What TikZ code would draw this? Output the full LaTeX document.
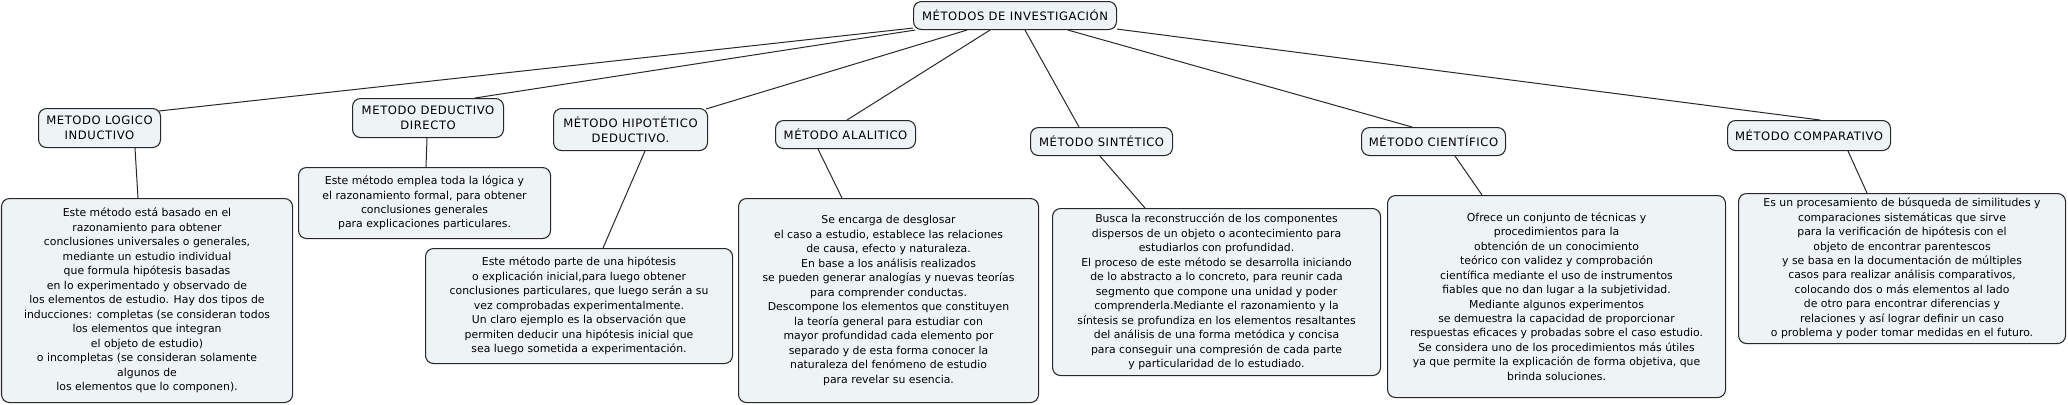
\documentclass[tikz,border=0pt]{standalone}
\usepackage{fontspec}
\setmainfont{DejaVu Sans}
\newfontfamily\capsfont[LetterSpace=5]{DejaVu Sans}
\usetikzlibrary{calc,backgrounds}
\definecolor{boxfill}{RGB}{238,244,246}
\definecolor{boxline}{RGB}{40,40,40}
\tikzset{
  cbox/.style={draw=boxline, fill=boxfill, line width=0.8pt, rounded corners=6pt,
    anchor=north west, inner sep=0pt, align=center,
    font=\fontsize{8.15}{10.85}\selectfont},
  capbox/.style={cbox, font=\capsfont\fontsize{8.7}{11.2}\selectfont},
  link/.style={draw=boxline, line width=0.75pt},
}
\newcommand{\bx}[7]{\node[cbox, #7, minimum width={#4*0.75pt}, minimum height={#5*0.75pt}] (#1) at (#2,#3) {#6};}
\begin{document}
\begin{tikzpicture}[x=0.75pt,y=-0.75pt]
\useasboundingbox (0,0) rectangle (2068,404);
% title
\bx{root}{913}{1}{203}{28}{MÉTODOS DE INVESTIGACIÓN}{capbox}
% methods
\bx{n1}{38}{108}{122}{39}{METODO LOGICO\\INDUCTIVO}{capbox}
\bx{n2}{352}{98}{151}{39}{METODO DEDUCTIVO\\DIRECTO}{capbox}
\bx{n3}{553}{108}{154}{42}{MÉTODO HIPOTÉTICO\\DEDUCTIVO.}{capbox}
\bx{n4}{775}{120}{140}{28}{MÉTODO ALALITICO}{capbox}
\bx{n5}{1030}{127}{142}{28}{MÉTODO SINTÉTICO}{capbox}
\bx{n6}{1361}{127}{144}{28}{MÉTODO CIENTÍFICO}{capbox}
\bx{n7}{1727}{120}{163}{30}{MÉTODO COMPARATIVO}{capbox}
% descriptions
\bx{d1}{1}{198}{291}{204}{Este método está basado en el\\razonamiento para obtener\\conclusiones universales o generales,\\mediante un estudio individual\\que formula hipótesis basadas\\en lo experimentado y observado de\\los elementos de estudio. Hay dos tipos de\\inducciones: completas (se consideran todos\\los elementos que integran\\el objeto de estudio)\\o incompletas (se consideran solamente\\algunos de\\los elementos que lo componen).}{}
\bx{d2}{298}{167}{252}{71}{Este método emplea toda la lógica y\\el razonamiento formal, para obtener\\conclusiones generales\\para explicaciones particulares.}{}
\bx{d3}{425}{248}{307}{115}{Este método parte de una hipótesis\\o explicación inicial,para luego obtener\\conclusiones particulares, que luego serán a su\\vez comprobadas experimentalmente.\\Un claro ejemplo es la observación que\\permiten deducir una hipótesis inicial que\\sea luego sometida a experimentación.}{}
\bx{d4}{738}{198}{300}{204}{Se encarga de desglosar\\el caso a estudio, establece las relaciones\\de causa, efecto y naturaleza.\\En base a los análisis realizados\\se pueden generar analogías y nuevas teorías\\para comprender conductas.\\Descompone los elementos que constituyen\\la teoría general para estudiar con\\mayor profundidad cada elemento por\\separado y de esta forma conocer la\\naturaleza del fenómeno de estudio\\para revelar su esencia.}{}
\bx{d5}{1052}{208}{328}{167}{Busca la reconstrucción de los componentes\\dispersos de un objeto o acontecimiento para\\estudiarlos con profundidad.\\El proceso de este método se desarrolla iniciando\\de lo abstracto a lo concreto, para reunir cada\\segmento que compone una unidad y poder\\comprenderla.Mediante el razonamiento y la\\síntesis se profundiza en los elementos resaltantes\\del análisis de una forma metódica y concisa\\para conseguir una compresión de cada parte\\y particularidad de lo estudiado.}{}
\bx{d6}{1387}{195}{338}{202}{Ofrece un conjunto de técnicas y\\procedimientos para la\\obtención de un conocimiento\\teórico con validez y comprobación\\científica mediante el uso de instrumentos\\fiables que no dan lugar a la subjetividad.\\Mediante algunos experimentos\\se demuestra la capacidad de proporcionar\\respuestas eficaces y probadas sobre el caso estudio.\\Se considera uno de los procedimientos más útiles\\ya que permite la explicación de forma objetiva, que\\brinda soluciones.}{}
\bx{d7}{1738}{193}{327}{150}{Es un procesamiento de búsqueda de similitudes y\\comparaciones sistemáticas que sirve\\para la verificación de hipótesis con el\\objeto de encontrar parentescos\\y se basa en la documentación de múltiples\\casos para realizar análisis comparativos,\\colocando dos o más elementos al lado\\de otro para encontrar diferencias y\\relaciones y así lograr definir un caso\\o problema y poder tomar medidas en el futuro.}{}
\begin{pgfonlayer}{background}
% title to methods
\draw[link] ($(root.south west)+(0,-2)$) -- ($(n1.north east)+(-2,3)$);
\draw[link] ($(root.south west)+(2,0)$) -- ($(n2.north west)+(123,0)$);
\draw[link] ($(root.south west)+(54,0)$) -- ($(n3.north east)+(-2,1)$);
\draw[link] ($(root.south west)+(77,0)$) -- ($(n4.north west)+(72,0)$);
\draw[link] ($(root.south west)+(112,0)$) -- ($(n5.north west)+(49,0)$);
\draw[link] ($(root.south west)+(155,0)$) -- ($(n6.north west)+(51,0)$);
\draw[link] ($(root.south east)+(0,-1)$) -- ($(n7.north west)+(93,0)$);
% methods to descriptions
\draw[link] ($(n1.south west)+(97,0)$) -- ($(d1.north west)+(137,0)$);
\draw[link] ($(n2.south west)+(75,0)$) -- ($(d2.north west)+(128,0)$);
\draw[link] ($(n3.south west)+(92,0)$) -- ($(d3.north west)+(178,0)$);
\draw[link] ($(n4.south west)+(43,0)$) -- ($(d4.north west)+(104,0)$);
\draw[link] ($(n5.south west)+(70,0)$) -- ($(d5.north west)+(93,0)$);
\draw[link] ($(n6.south west)+(94,0)$) -- ($(d6.north west)+(95,0)$);
\draw[link] ($(n7.south west)+(121,0)$) -- ($(d7.north west)+(129,0)$);
\end{pgfonlayer}
\end{tikzpicture}
\end{document}
